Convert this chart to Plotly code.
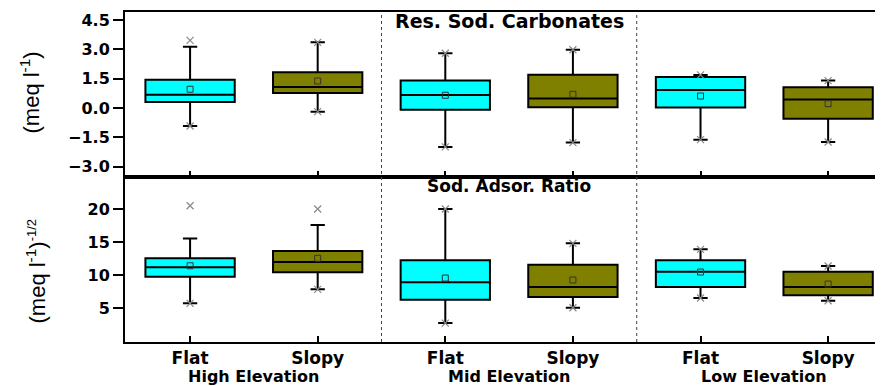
import plotly.graph_objects as go
from plotly.subplots import make_subplots

# ---------------- data ----------------
categories = ["Flat", "Slopy", "Flat", "Slopy", "Flat", "Slopy"]
elevations = ["High Elevation", "Mid Elevation", "Low Elevation"]
panel_titles = ["Res. Sod. Carbonates", "Sod. Adsor. Ratio"]
y_titles = ["(meq l<sup>-1</sup>)",
            "(meq l<sup>-1</sup>)<sup><span style='font-size:13px'>-1/2</span></sup>"]

# Residual sodium carbonate (meq l-1)
rsc_q1 = [0.31, 0.77, -0.09, 0.04, 0.02, -0.55]
rsc_median = [0.68, 1.07, 0.66, 0.48, 0.92, 0.44]
rsc_q3 = [1.45, 1.83, 1.40, 1.70, 1.58, 1.06]
rsc_low = [-0.92, -0.19, -1.99, -1.77, -1.62, -1.74]
rsc_high = [3.13, 3.36, 2.80, 2.98, 1.69, 1.40]
rsc_mean = [0.96, 1.38, 0.65, 0.70, 0.61, 0.22]
rsc_max = [3.46, 3.36, 2.80, 2.98, 1.69, 1.40]
rsc_min = [-0.92, -0.19, -1.99, -1.77, -1.62, -1.74]

# Sodium adsorption ratio
sar_q1 = [9.79, 10.45, 6.30, 6.71, 8.23, 6.97]
sar_median = [11.21, 12.02, 8.94, 8.23, 10.55, 8.23]
sar_q3 = [12.58, 13.68, 12.27, 11.60, 12.27, 10.55]
sar_low = [5.76, 7.88, 2.77, 5.09, 6.56, 6.15]
sar_high = [15.60, 17.62, 20.05, 14.85, 13.94, 11.41]
sar_mean = [11.45, 12.58, 9.59, 9.29, 10.50, 8.68]
sar_max = [20.55, 20.05, 20.05, 14.85, 13.94, 11.41]
sar_min = [5.76, 7.88, 2.77, 5.09, 6.56, 6.15]

rsc_ticks = [-3.0, -1.5, 0.0, 1.5, 3.0, 4.5]
sar_ticks = [5, 10, 15, 20]

colors = {"Flat": "#00FFFF", "Slopy": "#808000"}
FONT = "DejaVu Sans"

positions = list(range(1, len(categories) + 1))

fig = make_subplots(rows=2, cols=1, shared_xaxes=True, vertical_spacing=0)

panels = [
    (rsc_q1, rsc_median, rsc_q3, rsc_low, rsc_high, rsc_mean, rsc_max, rsc_min),
    (sar_q1, sar_median, sar_q3, sar_low, sar_high, sar_mean, sar_max, sar_min),
]

for r, (q1, med, q3, lo, hi, mean, mx, mn) in enumerate(panels, start=1):
    for cat in ["Flat", "Slopy"]:
        idx = [i for i, c in enumerate(categories) if c == cat]
        xs = [positions[i] for i in idx]
        fig.add_trace(go.Box(
            x=xs,
            q1=[q1[i] for i in idx],
            median=[med[i] for i in idx],
            q3=[q3[i] for i in idx],
            lowerfence=[lo[i] for i in idx],
            upperfence=[hi[i] for i in idx],
            width=0.7,
            whiskerwidth=0.16,
            fillcolor=colors[cat],
            line=dict(color="black", width=2),
            boxpoints=False,
            showlegend=False,
            hoverinfo="skip",
        ), row=r, col=1)
    # min / max crosses
    fig.add_trace(go.Scatter(
        x=positions + positions, y=mx + mn, mode="markers",
        marker=dict(symbol="x-thin-open", size=7, color="#8a8a8a",
                    line=dict(color="#8a8a8a", width=1.2)),
        showlegend=False, hoverinfo="skip",
    ), row=r, col=1)
    # mean squares
    fig.add_trace(go.Scatter(
        x=positions, y=mean, mode="markers",
        marker=dict(symbol="square-open", size=6, color="#333333",
                    line=dict(color="#333333", width=1)),
        showlegend=False, hoverinfo="skip",
    ), row=r, col=1)

xrange = [0.49, 6.43]
common_x = dict(range=xrange, showline=True, linewidth=2, linecolor="black",
                mirror=True, ticks="inside", ticklen=6, tickwidth=2, tickcolor="black",
                tickvals=positions, showgrid=False, zeroline=False, automargin=False)
fig.update_xaxes(**common_x, showticklabels=False, row=1, col=1)
fig.update_xaxes(**common_x, showticklabels=True, ticktext=categories,
                 tickfont=dict(family=FONT, size=17, color="black", weight="bold"),
                 row=2, col=1)

common_y = dict(showline=True, linewidth=2, linecolor="black", mirror=False,
                ticks="outside", ticklen=10, tickwidth=2, tickcolor="black",
                showgrid=False, zeroline=False, automargin=False,
                tickfont=dict(family=FONT, size=16, color="black", weight="bold"))
fig.update_yaxes(**common_y, range=[-3.53, 4.91], tickvals=rsc_ticks,
                 tickformat=".1f", row=1, col=1)
fig.update_yaxes(**common_y, range=[-0.1, 24.9], tickvals=sar_ticks, row=2, col=1)

# y-axis titles (rotated annotations)
fig.add_annotation(x=0, xref="paper", xshift=-96, y=0.5, yref="y domain", yshift=2,
                   text=y_titles[0], textangle=-90, showarrow=False,
                   xanchor="center", yanchor="middle",
                   font=dict(family="Liberation Sans", size=22, color="black"))
fig.add_annotation(x=0, xref="paper", xshift=-90, y=0.5, yref="y2 domain", yshift=-12,
                   text=y_titles[1], textangle=-90, showarrow=False,
                   xanchor="center", yanchor="middle",
                   font=dict(family="Liberation Sans", size=22, color="black"))

# dotted separators between elevation groups
for g in range(1, len(elevations)):
    xsep = (positions[2 * g - 1] + positions[2 * g]) / 2
    fig.add_shape(type="line", xref="x", yref="paper", x0=xsep, x1=xsep, y0=0, y1=1,
                  line=dict(color="#444444", width=1, dash="dot"))

# elevation group labels
for g, name in enumerate(elevations):
    xc = (positions[2 * g] + positions[2 * g + 1]) / 2
    fig.add_annotation(x=xc, xref="x2", y=0, yref="paper", yshift=-34, yanchor="middle",
                       text=name, showarrow=False,
                       font=dict(family=FONT, size=16, color="black", weight="bold"))

# panel titles
mid = (positions[2] + positions[3]) / 2
fig.add_annotation(x=mid, xref="x", y=1, yref="y domain", yshift=-9, yanchor="middle",
                   text=panel_titles[0], showarrow=False,
                   font=dict(family=FONT, size=19, color="black", weight="bold"))
fig.add_annotation(x=mid, xref="x2", y=1, yref="y2 domain", yshift=-9, yanchor="middle",
                   text=panel_titles[1], showarrow=False,
                   font=dict(family=FONT, size=17, color="black", weight="bold"))

# page body has an 8px margin: compensate so the plot lands where the reference has it
fig.update_layout(
    width=875, height=378,
    margin=dict(l=117, r=0, t=4, b=44),
    paper_bgcolor="white", plot_bgcolor="white",
    font=dict(family=FONT, color="black"),
)

fig.write_html("out.html")
